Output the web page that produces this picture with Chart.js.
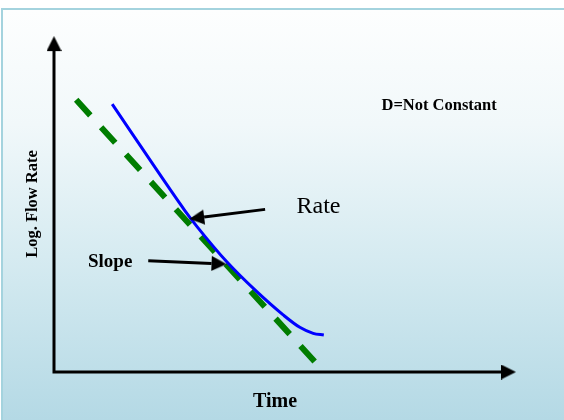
<!DOCTYPE html>
<html lang="en">

<head>
    <meta charset="UTF-8">
    <title>Log. Flow Rate vs Time</title>
    <script src="https://cdn.jsdelivr.net/npm/chart.js"></script>
    <style>
        body {
            margin: 0;
            width: 564px;
            height: 420px;
            position: relative;
            overflow: hidden;
            background: #ffffff;
        }

        .fundo {
            position: absolute;
            top: 8px;
            left: 1px;
            width: 563px;
            height: 412px;
            box-sizing: border-box;
            border-top: 2px solid #a4d3de;
            border-left: 2px solid #a4d3de;
            background: linear-gradient(to bottom, #fdfefe 0%, #f1f8fa 28%, #d6ebf1 60%, #b4d9e5 100%);
        }

        #grafico {
            position: absolute;
            top: 0;
            left: 0;
        }
    </style>
</head>

<body>
    <div class="fundo"></div>
    <canvas id="grafico" width="564" height="420"></canvas>

    <script>
        // dados do grafico (unidades do eixo: 0..100)
        var tempoTaxa = [12.6, 22.9, 28.4, 31.0, 37.4, 43.9, 49.6, 53.2, 56.1, 58.4];
        var logTaxa = [79.7, 58.8, 47.9, 43.2, 32.8, 23.9, 17.0, 13.3, 11.5, 11.0];

        var tempoReta = [4.8, 56.9];
        var logReta = [81.0, 2.4];

        var eixoX = [0, 0, 96.75];
        var eixoY = [95.5, 0, 0];

        var setaRateX = [45.7, 32.5];
        var setaRateY = [48.4, 46.1];
        var setaSlopeX = [20.4, 34.1];
        var setaSlopeY = [33.1, 32.3];

        function pontos(xs, ys) {
            var lista = [];
            for (var i = 0; i < xs.length; i++) {
                lista.push({ x: xs[i], y: ys[i] });
            }
            return lista;
        }

        // ponta de seta desenhada num canvas (centro = meio da base)
        function criarPonta(largura, comprimento) {
            var c = document.createElement('canvas');
            c.width = largura;
            c.height = comprimento * 2;
            var g = c.getContext('2d');
            g.fillStyle = '#000';
            g.beginPath();
            g.moveTo(largura / 2, 0);
            g.lineTo(largura, comprimento);
            g.lineTo(0, comprimento);
            g.closePath();
            g.fill();
            return c;
        }

        var ponta = criarPonta(15, 15);

        var textos = [
            { t: 'D=Not Constant', x: 381.5, y: 109.5, fonte: 'bold 16.5px "Liberation Serif"', alinha: 'left' },
            { t: 'Rate', x: 296.5, y: 212.5, fonte: '24px "Liberation Serif"', alinha: 'left' },
            { t: 'Slope', x: 88, y: 266.5, fonte: 'bold 19px "Liberation Serif"', alinha: 'left' },
            { t: 'Time', x: 275, y: 407, fonte: 'bold 20px "Liberation Serif"', alinha: 'center' }
        ];

        const pluginTextos = {
            id: 'textos',
            afterDraw(chart) {
                const ctx = chart.ctx;
                ctx.save();
                ctx.fillStyle = '#000';
                ctx.textBaseline = 'alphabetic';
                textos.forEach(function (item) {
                    ctx.font = item.fonte;
                    ctx.textAlign = item.alinha;
                    ctx.fillText(item.t, item.x, item.y);
                });
                ctx.translate(36.5, 204);
                ctx.rotate(-Math.PI / 2);
                ctx.font = 'bold 16.5px "Liberation Serif"';
                ctx.textAlign = 'center';
                ctx.fillText('Log. Flow Rate', 0, 0);
                ctx.restore();
            }
        };

        const ctx = document.getElementById('grafico');

        new Chart(ctx, {
            type: 'scatter',
            data: {
                datasets: [
                    {
                        label: 'Rate arrow',
                        data: pontos(setaRateX, setaRateY),
                        showLine: true,
                        borderColor: '#000',
                        borderWidth: 3,
                        pointRadius: [0, 8],
                        pointStyle: ponta,
                        rotation: 263,
                        clip: false
                    },
                    {
                        label: 'Slope arrow',
                        data: pontos(setaSlopeX, setaSlopeY),
                        showLine: true,
                        borderColor: '#000',
                        borderWidth: 3,
                        pointRadius: [0, 8],
                        pointStyle: ponta,
                        rotation: 92.4,
                        clip: false
                    },
                    {
                        label: 'Rate',
                        data: pontos(tempoTaxa, logTaxa),
                        showLine: true,
                        borderColor: '#0000ff',
                        borderWidth: 3,
                        pointRadius: 0,
                        cubicInterpolationMode: 'monotone',
                        clip: false
                    },
                    {
                        label: 'Slope',
                        data: pontos(tempoReta, logReta),
                        showLine: true,
                        borderColor: '#007d00',
                        borderWidth: 6,
                        borderDash: [21, 16],
                        borderCapStyle: 'butt',
                        pointRadius: 0,
                        clip: false
                    },
                    {
                        label: 'Eixos',
                        data: pontos(eixoX, eixoY),
                        showLine: true,
                        borderColor: '#000',
                        borderWidth: 3,
                        borderJoinStyle: 'miter',
                        pointRadius: [8, 0, 8],
                        pointStyle: ponta,
                        rotation: [0, 0, 90],
                        clip: false
                    }
                ]
            },
            options: {
                responsive: false,
                animation: false,
                events: [],
                layout: {
                    padding: { left: 54, right: 48, top: 36, bottom: 48 }
                },
                scales: {
                    x: { type: 'linear', min: 0, max: 100, display: false },
                    y: { type: 'linear', min: 0, max: 100, display: false }
                },
                plugins: {
                    legend: { display: false },
                    tooltip: { enabled: false }
                }
            },
            plugins: [pluginTextos]
        });
    </script>
</body>

</html>
